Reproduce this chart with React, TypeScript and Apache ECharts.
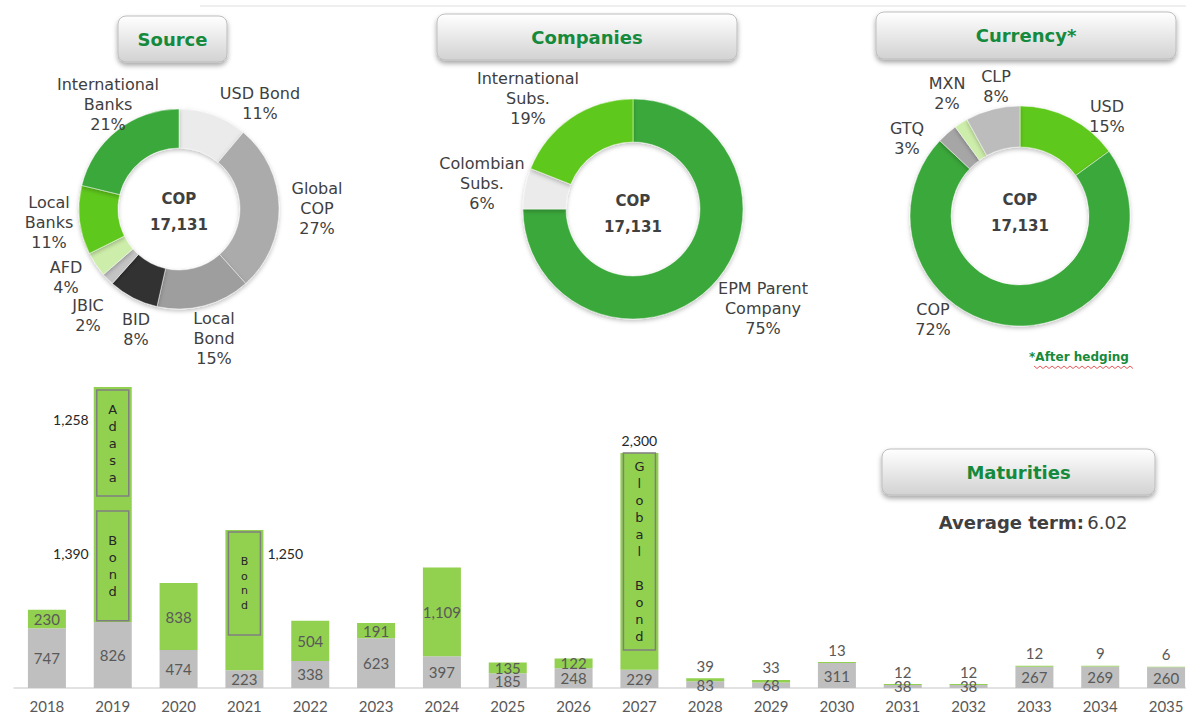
import React, { useEffect, useRef } from "react";
import * as echarts from "echarts";

// ---------- DATA ----------
const years = ["2018", "2019", "2020", "2021", "2022", "2023", "2024", "2025", "2026", "2027", "2028", "2029", "2030", "2031", "2032", "2033", "2034", "2035"];
const grayValues = [747, 826, 474, 223, 338, 623, 397, 185, 248, 229, 83, 68, 311, 38, 38, 267, 269, 260];
const greenValues = [230, 2936, 838, 1752, 504, 191, 1109, 135, 122, 2708, 39, 33, 13, 12, 12, 12, 9, 6];
const greenLabels = ["230", "", "838", "", "504", "191", "1,109", "135", "122", "", "39", "33", "13", "12", "12", "12", "9", "6"];

const bondYears = ["2019", "2019", "2021", "2027"];
const bondFrom = [840, 2400, 662, 475];
const bondTo = [2212, 3725, 1950, 2937];
const bondNames = ["Bond", "Adasa", "Bond", "Global Bond"];
const bondAmounts = ["1,390", "1,258", "1,250", "2,300"];
const bondLabelAt = [1687, 3362, 1687, 3100];
const bondLabelSide = ["left", "left", "right", "top"];

const sourceNames = ["USD Bond", "Global\nCOP", "Local\nBond", "BID", "JBIC", "AFD", "Local\nBanks", "International\nBanks"];
const sourceValues = [11, 27, 15, 8, 2, 4, 11, 21];
const companyNames = ["EPM Parent\nCompany", "Colombian\nSubs.", "International\nSubs."];
const companyValues = [75, 6, 19];
const currencyNames = ["USD", "COP", "GTQ", "MXN", "CLP"];
const currencyValues = [15, 72, 3, 2, 8];
const totalDebt = "17,131";
const averageTerm = "6.02";

// ---------- STYLES ----------
const PIE_FONT = "'DejaVu Sans', Verdana, sans-serif";
const BAR_FONT = "Lato, 'Open Sans', sans-serif";
const TXT = "#404040";
const GREEN_T = "#168A3C";
const C_DG = "#3BA83B";
const C_LG = "#5FC81A";
const C_PALE = "#CDEDAA";
const sourceColors = ["#EBEBEB", "#ABABAB", "#9E9E9E", "#333333", "#C4C4C4", C_PALE, C_LG, C_DG];
const companyColors = [C_DG, "#EBEBEB", C_LG];
const currencyColors = [C_LG, C_DG, "#A6A6A6", C_PALE, "#BCBCBC"];
const bondTextSize = [13, 13, 11, 13];
const bondLineH = [17, 17, 14.5, 17];

const labelPos: Record<number, number[][]> = {
  0: [[260, 103], [317, 208], [214, 338], [136, 329], [88, 315], [66, 277], [49, 222], [108, 104]],
  1: [[763, 308], [482, 183], [528, 98]],
  2: [[1107, 116], [933, 319], [907, 138], [947, 93], [996, 86]],
};

function pieSeries(idx: number, names: string[], values: number[], colors: string[], center: number[], radius: number[]) {
  return {
    type: "pie",
    silent: true,
    center,
    radius,
    startAngle: 90,
    clockwise: true,
    avoidLabelOverlap: false,
    data: names.map((n, i) => ({ name: n, value: values[i], itemStyle: { color: colors[i] } })),
    itemStyle: {
      borderColor: "rgba(255,255,255,0.45)",
      borderWidth: 1,
      shadowBlur: 4,
      shadowOffsetY: 2,
      shadowColor: "rgba(0,0,0,0.25)",
    },
    label: {
      show: true,
      position: "outside",
      formatter: "{b}\n{c}%",
      color: TXT,
      fontFamily: PIE_FONT,
      fontSize: 16,
      lineHeight: 20,
    },
    labelLine: { show: false },
    labelLayout: (p: any) => {
      const pos = labelPos[idx][p.dataIndex];
      return { x: pos[0], y: pos[1], align: "center", verticalAlign: "middle" };
    },
  };
}

function titleBox(x: number, y: number, w: number, h: number, text: string) {
  return {
    type: "group",
    children: [
      {
        type: "rect",
        shape: { x, y, width: w, height: h, r: 8 },
        style: {
          fill: { type: "linear", x: 0, y: 0, x2: 0, y2: 1, colorStops: [{ offset: 0, color: "#FFFFFF" }, { offset: 1, color: "#D2D2D2" }] },
          stroke: "#BDBDBD",
          lineWidth: 1,
          shadowBlur: 5,
          shadowOffsetY: 3,
          shadowColor: "rgba(0,0,0,0.35)",
        },
      },
      {
        type: "text",
        style: {
          text,
          x: x + w / 2,
          y: y + h / 2,
          align: "center",
          verticalAlign: "middle",
          fill: GREEN_T,
          fontFamily: PIE_FONT,
          fontWeight: "bold",
          fontSize: 18,
        },
      },
    ],
  };
}

function centerText(x: number, y: number) {
  return {
    type: "text",
    style: {
      text: "COP\n" + totalDebt,
      x,
      y,
      align: "center",
      verticalAlign: "middle",
      fill: TXT,
      fontFamily: PIE_FONT,
      fontWeight: "bold",
      fontSize: 15,
      lineHeight: 26,
    },
  };
}

export default function App() {
  const ref = useRef<HTMLDivElement>(null);
  useEffect(() => {
    if (!ref.current) return;
    const chart = echarts.init(ref.current, undefined, { renderer: "svg" });
    const barW = 38;
    const bondData = bondYears.map((y, i) => [years.indexOf(y), bondFrom[i], bondTo[i], bondLabelAt[i]]);

    const zig: number[][] = [];
    for (let k = 0; k <= 33; k++) zig.push([1034 + k * 3, k % 2 === 0 ? 366 : 368.5]);

    const option: any = {
      animation: false,
      backgroundColor: "#FFFFFF",
      grid: { left: 14, width: 1185, top: 384, height: 304 },
      xAxis: {
        type: "category",
        data: years,
        axisLine: { lineStyle: { color: "#D9D9D9", width: 1.5 } },
        axisTick: { show: false },
        axisLabel: { color: "#595959", fontFamily: BAR_FONT, fontSize: 15, margin: 10 },
      },
      yAxis: { type: "value", min: 0, max: 3800, show: false, splitLine: { show: false } },
      series: [
        {
          type: "bar",
          stack: "m",
          barWidth: barW,
          silent: true,
          data: grayValues,
          itemStyle: { color: "#BFBFBF" },
          label: { show: true, position: "inside", color: "#595959", fontFamily: BAR_FONT, fontSize: 15 },
        },
        {
          type: "bar",
          stack: "m",
          barWidth: barW,
          silent: true,
          data: greenValues.map((v) => ({
            value: v,
            label: { position: v < 60 ? "top" : "inside", distance: 5 },
          })),
          itemStyle: { color: "#92D050" },
          label: {
            show: true,
            color: "#595959",
            fontFamily: BAR_FONT,
            fontSize: 15,
            formatter: (p: any) => greenLabels[p.dataIndex],
          },
        },
        {
          type: "custom",
          silent: true,
          z: 10,
          clip: false,
          encode: { x: 0, y: [1, 2] },
          data: bondData,
          renderItem: (params: any, api: any) => {
            const i = params.dataIndex;
            const cat = api.value(0);
            const p0 = api.coord([cat, api.value(1)]);
            const p1 = api.coord([cat, api.value(2)]);
            const pl = api.coord([cat, api.value(3)]);
            const inset = 3;
            const side = bondLabelSide[i];
            let lx = p0[0];
            let align = "center";
            if (side === "left") { lx = p0[0] - barW / 2 - 5; align = "right"; }
            if (side === "right") { lx = p0[0] + barW / 2 + 4; align = "left"; }
            return {
              type: "group",
              children: [
                {
                  type: "rect",
                  shape: { x: p0[0] - barW / 2 + inset, y: p1[1], width: barW - 2 * inset, height: p0[1] - p1[1] },
                  style: { fill: "none", stroke: "#7F7F7F", lineWidth: 1.5 },
                },
                {
                  type: "text",
                  style: {
                    text: bondNames[i].split("").join("\n"),
                    x: p0[0],
                    y: (p0[1] + p1[1]) / 2,
                    align: "center",
                    verticalAlign: "middle",
                    fill: "#262626",
                    fontFamily: PIE_FONT,
                    fontSize: bondTextSize[i],
                    lineHeight: bondLineH[i],
                  },
                },
                {
                  type: "text",
                  style: {
                    text: bondAmounts[i],
                    x: lx,
                    y: pl[1],
                    align,
                    verticalAlign: "middle",
                    fill: "#262626",
                    fontFamily: BAR_FONT,
                    fontSize: 14,
                  },
                },
              ],
            };
          },
        },
        pieSeries(0, sourceNames, sourceValues, sourceColors, [179, 209], [61, 100]),
        pieSeries(1, companyNames, companyValues, companyColors, [633, 209], [67, 110]),
        pieSeries(2, currencyNames, currencyValues, currencyColors, [1020, 216], [69, 110]),
      ],
      graphic: [
        { type: "line", shape: { x1: 200, y1: 6, x2: 1186, y2: 6 }, style: { stroke: "#EFEFEF", lineWidth: 2 } },
        titleBox(118, 16, 109, 46, "Source"),
        titleBox(437, 14, 300, 46, "Companies"),
        titleBox(876, 12, 300, 47, "Currency*"),
        titleBox(882, 449, 273, 46, "Maturities"),
        centerText(179, 212),
        centerText(633, 214),
        centerText(1020, 213),
        {
          type: "text",
          style: {
            text: "*After hedging",
            x: 1079,
            y: 357,
            align: "center",
            verticalAlign: "middle",
            fill: GREEN_T,
            fontFamily: PIE_FONT,
            fontWeight: "bold",
            fontSize: 12,
          },
        },
        { type: "polyline", shape: { points: zig }, style: { stroke: "#E03030", lineWidth: 0.8, fill: "none" } },
        {
          type: "text",
          style: {
            text: "{b|Average term:} {n|" + averageTerm + "}",
            x: 1033,
            y: 522,
            align: "center",
            verticalAlign: "middle",
            rich: {
              b: { fontFamily: PIE_FONT, fontWeight: "bold", fontSize: 18, fill: TXT, color: TXT },
              n: { fontFamily: PIE_FONT, fontWeight: "normal", fontSize: 18, fill: TXT, color: TXT },
            },
          },
        },
      ],
    };
    chart.setOption(option);
    return () => chart.dispose();
  }, []);
  return (
    <div
      ref={ref}
      style={{ position: "fixed", left: 0, top: 0, width: 1200, height: 713, background: "#fff" }}
    />
  );
}
